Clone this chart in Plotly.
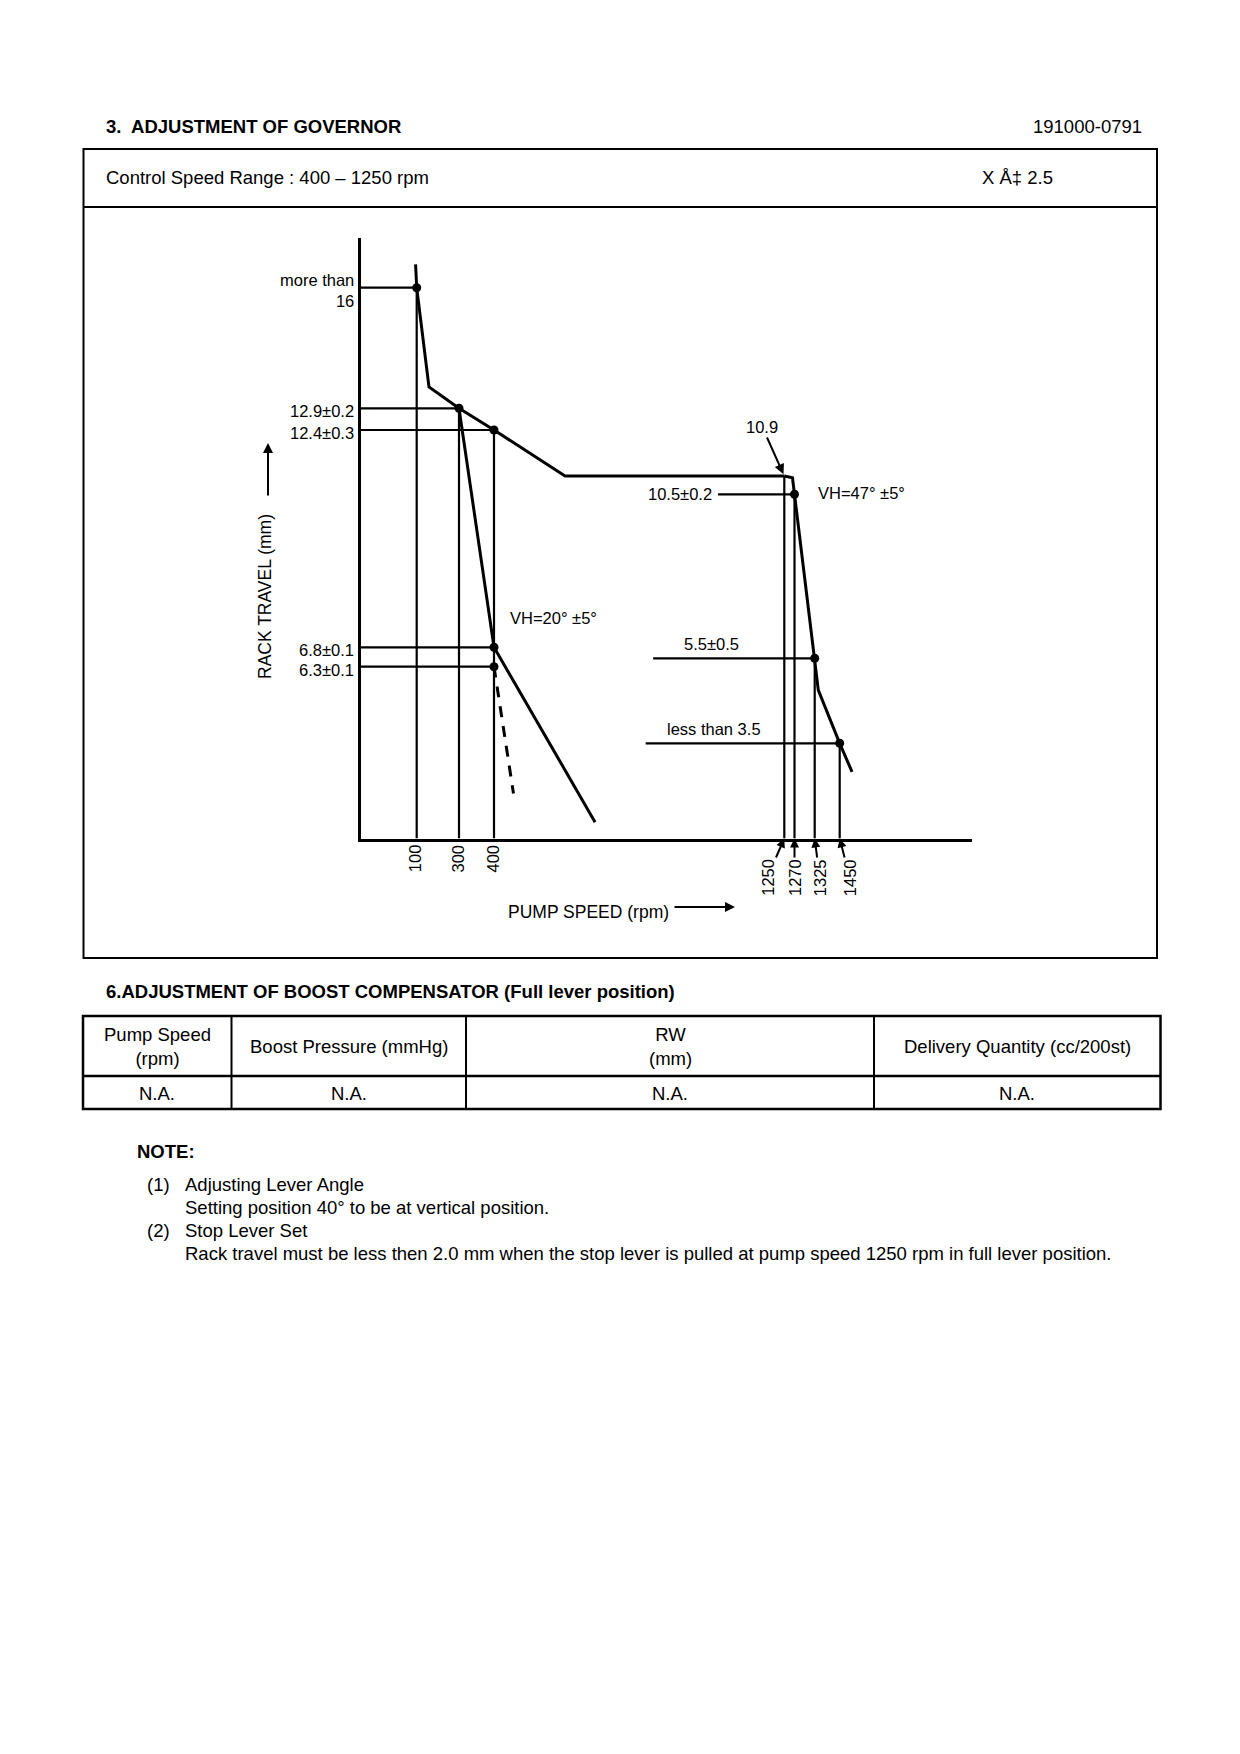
import numpy as np
import plotly.graph_objects as go

W, H = 1240, 1754
FONT = "Liberation Sans, Arial, Helvetica, sans-serif"

# ---------------- data (pump speed in rpm, rack travel in mm) ----------------
# full-lever governor curve, low-speed part
FULL_LOW_RPM = [98, 100, 158, 300, 400, 608, 1250]
FULL_LOW_MM = [16.6, 16.0, 13.45, 12.9, 12.4, 10.9, 10.9]
# full-lever governor curve, high-speed (cut-off) part
FULL_HIGH_RPM = [1250, 1266, 1270, 1325, 1343, 1450, 1464]
FULL_HIGH_MM = [10.9, 10.86, 10.5, 5.5, 4.75, 3.5, 2.45]
# idle lever curve VH = 20 deg
VH20_RPM = [300, 400, 696]
VH20_MM = [12.9, 6.8, 0.6]
VH20_DASH_RPM = [400, 457]
VH20_DASH_MM = [6.3, 1.65]

# adjustment points
LEFT_SET_RPM = [100, 300, 400, 400, 400]
LEFT_SET_MM = [16.0, 12.9, 12.4, 6.8, 6.3]
LEFT_SET_LABELS = ["more than<br>16", "12.9±0.2", "12.4±0.3", "6.8±0.1", "6.3±0.1"]

RIGHT_SET_RPM = [1270, 1325, 1450]
RIGHT_SET_MM = [10.5, 5.5, 3.5]
RIGHT_SET_LABELS = ["10.5±0.2", "5.5±0.5", "less than 3.5"]
RIGHT_LEADER_FROM_RPM = [1056, 866, 844]

CORNER_RPM = 1250
CORNER_MM = 10.9

SPEED_LOW_TICKS = [100, 300, 400]
SPEED_HIGH_TICKS = [1250, 1270, 1325, 1450]

TABLE_HEADERS = ["Pump Speed<br>(rpm)", "Boost Pressure (mmHg)", "RW<br>(mm)",
                 "Delivery Quantity (cc/200st)"]
TABLE_VALUES = ["N.A.", "N.A.", "N.A.", "N.A."]

NOTES = [
    ("(1)", "Adjusting Lever Angle"),
    ("", "Setting position 40° to be at vertical position."),
    ("(2)", "Stop Lever Set"),
    ("", "Rack travel must be less then 2.0 mm when the stop lever is pulled at pump speed 1250 rpm in full lever position."),
]

# ---------------- schematic (not-to-scale) axis definitions ----------------
X_SCALE_RPM = [0, 100, 300, 400, 1250, 1270, 1325, 1450, 1600]
X_SCALE_U = [0, 56, 98.3, 133.3, 423.6, 433.8, 454, 479, 611.3]
YL_SCALE_MM = [0, 6.3, 6.8, 10.9, 12.4, 12.9, 16, 17]
YL_SCALE_U = [0, 171.8, 191.2, 362.5, 408.5, 430.2, 550.8, 589.7]
YR_SCALE_MM = [0, 3.5, 5.5, 10.5, 10.9, 17]
YR_SCALE_U = [0, 95.2, 180.2, 344.2, 362.5, 589.7]


def sx(v):
    return np.interp(v, X_SCALE_RPM, X_SCALE_U)


def syl(v):
    return np.interp(v, YL_SCALE_MM, YL_SCALE_U)


def syr(v):
    return np.interp(v, YR_SCALE_MM, YR_SCALE_U)


def px(x):
    return x / W


def py(y):
    return 1 - y / H


fig = go.Figure()

# guide lines
gx, gy = [], []
for r, m in zip(LEFT_SET_RPM, LEFT_SET_MM):
    gx += [0, float(sx(r)), None]
    gy += [float(syl(m)), float(syl(m)), None]
for r in sorted(set(LEFT_SET_RPM)):
    top = max(m for rr, m in zip(LEFT_SET_RPM, LEFT_SET_MM) if rr == r)
    gx += [float(sx(r)), float(sx(r)), None]
    gy += [0, float(syl(top)), None]
gx += [float(sx(CORNER_RPM)), float(sx(CORNER_RPM)), None]
gy += [0, float(syr(CORNER_MM)), None]
for r, m, r0 in zip(RIGHT_SET_RPM, RIGHT_SET_MM, RIGHT_LEADER_FROM_RPM):
    gx += [float(sx(r0)), float(sx(r)), None, float(sx(r)), float(sx(r)), None]
    gy += [float(syr(m)), float(syr(m)), None, 0, float(syr(m)), None]
fig.add_trace(go.Scatter(x=gx, y=gy, mode="lines", line=dict(color="black", width=2.2),
                         hoverinfo="skip", showlegend=False))

# curves
CURVE = dict(color="black", width=3)
fig.add_trace(go.Scatter(x=sx(FULL_LOW_RPM), y=syl(FULL_LOW_MM), mode="lines",
                         line=CURVE, showlegend=False))
fig.add_trace(go.Scatter(x=sx(FULL_HIGH_RPM), y=syr(FULL_HIGH_MM), mode="lines",
                         line=CURVE, showlegend=False))
fig.add_trace(go.Scatter(x=sx(VH20_RPM), y=syl(VH20_MM), mode="lines",
                         line=CURVE, showlegend=False))
fig.add_trace(go.Scatter(x=sx(VH20_DASH_RPM), y=syl(VH20_DASH_MM), mode="lines",
                         line=dict(color="black", width=3, dash="11px,9px"), showlegend=False))

# adjustment points
fig.add_trace(go.Scatter(x=np.concatenate([sx(LEFT_SET_RPM), sx(RIGHT_SET_RPM)]),
                         y=np.concatenate([syl(LEFT_SET_MM), syr(RIGHT_SET_MM)]),
                         mode="markers", marker=dict(color="black", size=9),
                         cliponaxis=False, showlegend=False))

ann = []
CF = dict(family=FONT, size=16.5, color="black")
AF = dict(family=FONT, size=17.5, color="black")
BF = dict(family=FONT, size=18.5, color="black")
BB = dict(family=FONT, size=18.5, color="black", weight="bold")
ARW = dict(arrowcolor="black", arrowwidth=2, arrowhead=2, arrowsize=1)

# left value labels
for r, m, lab in zip(LEFT_SET_RPM, LEFT_SET_MM, LEFT_SET_LABELS):
    ann.append(dict(x=0, y=float(syl(m)), xref="x", yref="y", text=lab, showarrow=False,
                    xanchor="right", yanchor="middle", align="right", xshift=-5, yshift=-3, font=CF))

# right value labels
right_place = [dict(xanchor="right", yanchor="middle", xshift=-4, yshift=0),
               dict(xanchor="left", yanchor="bottom", xshift=29, yshift=3),
               dict(xanchor="left", yanchor="bottom", xshift=19, yshift=3)]
for r0, m, lab, pl in zip(RIGHT_LEADER_FROM_RPM, RIGHT_SET_MM, RIGHT_SET_LABELS, right_place):
    ann.append(dict(x=float(sx(r0)), y=float(syr(m)), xref="x", yref="y", text=lab,
                    showarrow=False, font=CF, **pl))

ann.append(dict(x=float(sx(CORNER_RPM)), y=float(syr(CORNER_MM)), xref="x", yref="y",
                text="10.9", showarrow=True, ax=-22, ay=-49, standoff=2, font=CF, **ARW))
ann.append(dict(x=float(sx(RIGHT_SET_RPM[0])), y=float(syr(RIGHT_SET_MM[0])), xref="x", yref="y",
                text="VH=47° ±5°", showarrow=False, xanchor="left", yanchor="middle",
                xshift=21, yshift=1, font=CF))
ann.append(dict(x=float(sx(VH20_RPM[1])), y=float(syl(VH20_MM[1])), xref="x", yref="y",
                text="VH=20° ±5°", showarrow=False, xanchor="left", yanchor="middle",
                xshift=14, yshift=29, font=CF))

# speed tick labels
for r in SPEED_LOW_TICKS:
    ann.append(dict(x=float(sx(r)), y=0, xref="x", yref="y", text=str(r), textangle=-90,
                    showarrow=False, xanchor="center", yanchor="top", xshift=-2, yshift=-4, font=CF))
for r, dx in zip(SPEED_HIGH_TICKS, [-17, 0, 5, 10]):
    ann.append(dict(x=float(sx(r)), y=0, xref="x", yref="y", text=str(r), textangle=-90,
                    showarrow=True, ax=dx, ay=39, standoff=0, font=CF,
                    arrowcolor="black", arrowwidth=2, arrowhead=2, arrowsize=0.9))

# axis titles
ann.append(dict(x=px(265), y=py(597), xref="paper", yref="paper", text="RACK TRAVEL (mm)",
                textangle=-90, showarrow=False, xanchor="center", yanchor="middle", font=AF))
ann.append(dict(x=px(268), y=py(443), xref="paper", yref="paper", text="", showarrow=True,
                ax=0, ay=54, **ARW))
ann.append(dict(x=px(588), y=py(912), xref="paper", yref="paper", text="PUMP SPEED (rpm)",
                showarrow=False, xanchor="center", yanchor="middle", font=AF))
ann.append(dict(x=px(735), y=py(907), xref="paper", yref="paper", text="", showarrow=True,
                ax=-62, ay=0, **ARW))

# page texts
ann.append(dict(x=px(104), y=py(126), xref="paper", yref="paper", text="3.  ADJUSTMENT OF GOVERNOR",
                showarrow=False, xanchor="left", yanchor="middle", font=BB))
ann.append(dict(x=px(1144), y=py(126), xref="paper", yref="paper", text="191000-0791",
                showarrow=False, xanchor="right", yanchor="middle", font=BF))
ann.append(dict(x=px(104), y=py(178), xref="paper", yref="paper",
                text="Control Speed Range : 400 – 1250 rpm",
                showarrow=False, xanchor="left", yanchor="middle", font=BF))
ann.append(dict(x=px(980), y=py(178), xref="paper", yref="paper", text="X Å‡ 2.5",
                showarrow=False, xanchor="left", yanchor="middle", font=BF))
ann.append(dict(x=px(104), y=py(992), xref="paper", yref="paper",
                text="6.ADJUSTMENT OF BOOST COMPENSATOR (Full lever position)",
                showarrow=False, xanchor="left", yanchor="middle", font=BB))

col_edges = [83, 231.5, 466, 874, 1160.5]
for i, (hd, vl) in enumerate(zip(TABLE_HEADERS, TABLE_VALUES)):
    cx = (col_edges[i] + col_edges[i + 1]) / 2
    ann.append(dict(x=px(cx), y=py(1046), xref="paper", yref="paper", text=hd, showarrow=False,
                    xanchor="center", yanchor="middle", align="center", font=BF))
    ann.append(dict(x=px(cx), y=py(1093), xref="paper", yref="paper", text=vl, showarrow=False,
                    xanchor="center", yanchor="middle", font=BF))

ann.append(dict(x=px(135), y=py(1151), xref="paper", yref="paper", text="NOTE:",
                showarrow=False, xanchor="left", yanchor="middle", font=BB))
for k, (num, txt) in enumerate(NOTES):
    yy = 1184 + 23 * k
    if num:
        ann.append(dict(x=px(145), y=py(yy), xref="paper", yref="paper", text=num,
                        showarrow=False, xanchor="left", yanchor="middle", font=BF))
    ann.append(dict(x=px(183), y=py(yy), xref="paper", yref="paper", text=txt,
                    showarrow=False, xanchor="left", yanchor="middle", font=BF))

shapes = []
LINE = dict(color="black", width=2)
LINE_T = dict(color="black", width=2.5)
shapes.append(dict(type="rect", xref="paper", yref="paper", x0=px(83.5), x1=px(1157),
                   y0=py(149), y1=py(958), line=LINE))
shapes.append(dict(type="line", xref="paper", yref="paper", x0=px(83.5), x1=px(1157),
                   y0=py(207), y1=py(207), line=LINE))
shapes.append(dict(type="rect", xref="paper", yref="paper", x0=px(83), x1=px(1160.5),
                   y0=py(1016), y1=py(1109), line=LINE_T))
shapes.append(dict(type="line", xref="paper", yref="paper", x0=px(83), x1=px(1160.5),
                   y0=py(1076), y1=py(1076), line=LINE_T))
for xe in col_edges[1:-1]:
    shapes.append(dict(type="line", xref="paper", yref="paper", x0=px(xe), x1=px(xe),
                       y0=py(1016), y1=py(1109), line=LINE))

x0p, x1p = 360.7, 972.0
yb, yt = 838.5, 238.0
fig.update_layout(
    width=W, height=H, autosize=False,
    margin=dict(l=0, r=0, t=0, b=0, pad=0),
    paper_bgcolor="white", plot_bgcolor="white",
    showlegend=False,
    xaxis=dict(domain=[px(x0p), px(x1p)], range=[0, x1p - x0p], showline=True, linewidth=2.5,
               linecolor="black", showgrid=False, zeroline=False, showticklabels=False,
               ticks="", fixedrange=True),
    yaxis=dict(domain=[py(yb), py(yt)], range=[0, yb - yt], showline=True, linewidth=2.5,
               linecolor="black", showgrid=False, zeroline=False, showticklabels=False,
               ticks="", fixedrange=True),
    annotations=ann,
    shapes=shapes,
    font=dict(family=FONT, color="black"),
)

fig.write_html("out.html", config={"displayModeBar": False},
               post_script="document.body.style.margin='0';")
